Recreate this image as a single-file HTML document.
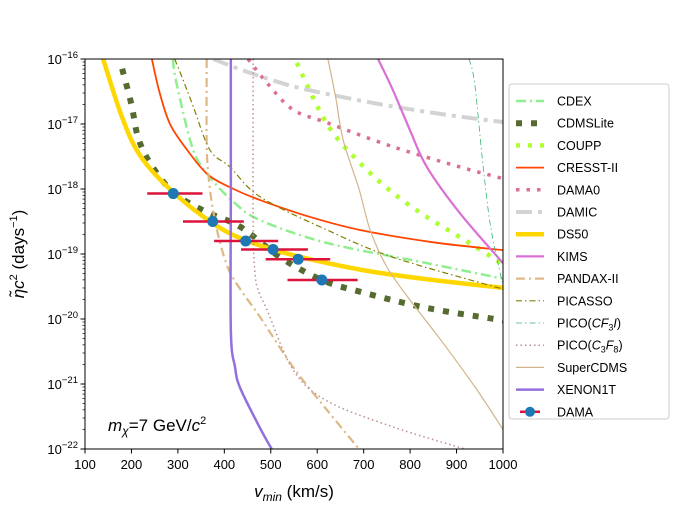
<!DOCTYPE html>
<html><head><meta charset="utf-8"><style>
html,body{margin:0;padding:0;background:#fff;}
svg{display:block;font-family:"Liberation Sans","DejaVu Sans",sans-serif;}
</style></head><body>
<svg id="chart" width="674" height="505" viewBox="0 0 674 505">
<defs><clipPath id="clip"><rect x="85" y="59" width="418" height="390"/></clipPath></defs>
<g id="curves" clip-path="url(#clip)"></g>
<g id="dama" clip-path="url(#clip)"></g>
<rect x="85" y="59" width="418" height="390" fill="none" stroke="#000" stroke-width="1"/>
<g id="axes" font-size="13"></g>
<text x="108" y="431" font-size="17"><tspan font-style="italic">m</tspan><tspan font-style="italic" font-size="12" dy="4">χ</tspan><tspan dy="-4">=7 GeV/</tspan><tspan font-style="italic">c</tspan><tspan font-size="11" dy="-7">2</tspan></text>
<text x="294" y="497" font-size="17" text-anchor="middle"><tspan font-style="italic">v</tspan><tspan font-style="italic" font-size="12" dy="4">min</tspan><tspan dy="-4"> (km/s)</tspan></text>
<text transform="translate(24,254) rotate(-90)" font-size="17" text-anchor="middle"><tspan font-style="italic">η̃c</tspan><tspan font-size="11" dy="-7">2</tspan><tspan dy="7"> (days</tspan><tspan font-size="11" dy="-7">−1</tspan><tspan dy="7">)</tspan></text>
<g id="legend">
<rect x="509" y="84" width="160" height="335" rx="3" fill="#fff" stroke="#ccc" stroke-width="1"/>
</g>
</svg>
<script>
const xTicks=[100,200,300,400,500,600,700,800,900,1000];
const yTicks=[-16,-17,-18,-19,-20,-21,-22];
const names=["CDEX","CDMSLite","COUPP","CRESST-II","DAMA0","DAMIC","DS50","KIMS","PANDAX-II","PICASSO","PICO(CF3I)","PICO(C3F8)","SuperCDMS","XENON1T"];
const cdexX=[289,297,333,369,420,477,621,836,1000];
const cdexY=[-16,-16.37,-17.4,-17.82,-18.2,-18.48,-18.83,-19.14,-19.38];
const cdmsX=[180,200,214,240,290,360,434,520,610,692,836,1000];
const cdmsY=[-16.15,-16.7,-17.2,-17.6,-18.05,-18.35,-18.58,-19.05,-19.4,-19.58,-19.83,-20.02];
const couppX=[556,621,692,763,836,907,987,1000];
const couppY=[-16.06,-17.0,-17.6,-18.06,-18.43,-18.74,-19.1,-19.2];
const cresstX=[244,260,283,320,365,420,477,580,692,850,1000];
const cresstY=[-16,-16.5,-17,-17.4,-17.78,-18.0,-18.17,-18.42,-18.63,-18.82,-18.94];
const dama0X=[451,492,548,621,763,907,1000];
const dama0Y=[-16,-16.37,-16.78,-16.98,-17.35,-17.66,-17.84];
const damicX=[376,450,548,650,763,880,1000];
const damicY=[-16,-16.2,-16.42,-16.58,-16.73,-16.86,-16.97];
const ds50X=[139,180,220,290,380,450,550,700,850,1000];
const ds50Y=[-16,-16.9,-17.5,-18.05,-18.55,-18.8,-19.02,-19.25,-19.4,-19.52];
const kimsX=[731,763,800,836,907,1000];
const kimsY=[-16,-16.48,-17.1,-17.66,-18.37,-19.14];
const pandaxX=[362,362,366,375,390,410,440,477,548,621,690];
const pandaxY=[-16,-17.3,-17.8,-18.3,-18.8,-19.25,-19.6,-19.97,-20.74,-21.4,-22];
const picassoX=[293,310,333,369,412,477,621,763,1000];
const picassoY=[-16,-16.3,-16.73,-17.4,-17.66,-18.12,-18.63,-19.05,-19.54];
const picoCfX=[927,939,955,972,994,1000];
const picoCfY=[-16,-16.37,-17.5,-18.52,-19.3,-19.45];
const picoC3X=[462,462,466,475,492,548,621,763,918];
const picoC3Y=[-16,-18.5,-19.3,-19.6,-19.86,-20.78,-21.26,-21.66,-22];
const superX=[623,640,656,690,714,750,800,871,944,1000];
const superY=[-16,-16.6,-17.25,-18.0,-18.63,-19.2,-19.71,-20.37,-21.09,-21.7];
const xenonX=[414,414,414,423,434,477,502];
const xenonY=[-16,-18,-20.17,-20.74,-21.06,-21.68,-22];
const damaX=[290,375,446,505,559,610];
const damaY=[-18.07,-18.5,-18.8,-18.93,-19.08,-19.4];
const damaXlo=[234,311,378,436,489,536];
const damaXhi=[353,442,516,580,628,687];

const NS="http://www.w3.org/2000/svg";
function sx(v){return 85+(v-100)*418/900;}
function sy(l){return 59+(-16-l)*65;}
function mk(t,a,p){const e=document.createElementNS(NS,t);for(const k in a)e.setAttribute(k,a[k]);p.appendChild(e);return e;}
function pathD(X,Y){const P=X.map((x,i)=>[sx(x),sy(Y[i])]);let d="M"+P[0][0]+","+P[0][1];
for(let i=0;i<P.length-1;i++){const p0=P[i-1]||P[i],p1=P[i],p2=P[i+1],p3=P[i+2]||p2;
const c1=[p1[0]+(p2[0]-p0[0])/6,p1[1]+(p2[1]-p0[1])/6],c2=[p2[0]-(p3[0]-p1[0])/6,p2[1]-(p3[1]-p1[1])/6];
d+=" C"+c1+" "+c2+" "+p2;}return d;}
const styles={
"CDEX":{c:"#90ee90",w:2.5,da:"10,4,2,4"},
"CDMSLite":{c:"#556b2f",w:6,da:"6,9"},
"COUPP":{c:"#adff2f",w:4.5,da:"4,8"},
"CRESST-II":{c:"#ff4500",w:1.8,da:""},
"DAMA0":{c:"#db7093",w:3.5,da:"3.5,7"},
"DAMIC":{c:"#d3d3d3",w:4,da:"16,6,4,6"},
"DS50":{c:"#ffd700",w:4.5,da:""},
"KIMS":{c:"#da70d6",w:2.2,da:""},
"PANDAX-II":{c:"#deb887",w:2.2,da:"9,4,2,4"},
"PICASSO":{c:"#808000",w:1.2,da:"6,3,1.5,3"},
"PICO(CF3I)":{c:"#3cb371",w:0.8,da:"6,3,1.5,3"},
"PICO(C3F8)":{c:"#bc8f8f",w:1.5,da:"1.5,3"},
"SuperCDMS":{c:"#d2b48c",w:1.2,da:""},
"XENON1T":{c:"#9370db",w:2.5,da:""}};
const data={"CDEX":[cdexX,cdexY],"CDMSLite":[cdmsX,cdmsY],"COUPP":[couppX,couppY],"CRESST-II":[cresstX,cresstY],"DAMA0":[dama0X,dama0Y],"DAMIC":[damicX,damicY],"DS50":[ds50X,ds50Y],"KIMS":[kimsX,kimsY],"PANDAX-II":[pandaxX,pandaxY],"PICASSO":[picassoX,picassoY],"PICO(CF3I)":[picoCfX,picoCfY],"PICO(C3F8)":[picoC3X,picoC3Y],"SuperCDMS":[superX,superY],"XENON1T":[xenonX,xenonY]};
const cg=document.getElementById("curves");
names.forEach(n=>{const s=styles[n];const p=mk("path",{d:pathD(data[n][0],data[n][1]),fill:"none",stroke:s.c,"stroke-width":s.w,"stroke-dasharray":s.da},cg);

});
const dg=document.getElementById("dama");
damaX.forEach((x,i)=>{
const b=mk("line",{x1:sx(damaXlo[i]),x2:sx(damaXhi[i]),y1:sy(damaY[i]),y2:sy(damaY[i]),stroke:"#dc143c","stroke-width":2.5},dg);


const v=mk("line",{x1:sx(x),x2:sx(x),y1:sy(damaY[i])-4,y2:sy(damaY[i])+4,stroke:"#dc143c","stroke-width":2.5},dg);


const c=mk("circle",{cx:sx(x),cy:sy(damaY[i]),r:5.5,fill:"#1f77b4"},dg);

});
const ag=document.getElementById("axes");
xTicks.forEach(t=>{const X=sx(t);mk("line",{x1:X,x2:X,y1:449,y2:453.5,stroke:"#000"},ag);
const tx=mk("text",{x:X,y:469,"text-anchor":"middle"},ag);tx.textContent=t;

});
yTicks.forEach(t=>{const Y=sy(t);mk("line",{x1:85,x2:80.5,y1:Y,y2:Y,stroke:"#000"},ag);
if(t>-22)for(let m=2;m<10;m++){const ym=sy(t-1+Math.log10(m));mk("line",{x1:85,x2:82.5,y1:ym,y2:ym,stroke:"#000","stroke-width":0.7},ag);}
const tx=mk("text",{x:78,y:Y+5,"text-anchor":"end"},ag);


const a=document.createElementNS(NS,"tspan");a.textContent="10";tx.appendChild(a);
const b=document.createElementNS(NS,"tspan");b.setAttribute("dy","-6");b.setAttribute("font-size","9.5");b.textContent="−"+(-t);tx.appendChild(b);});
const lg=document.getElementById("legend");
const legNames=names.concat(["DAMA"]);
legNames.forEach((n,i)=>{const y=101+i*22.2;
if(n==="DAMA"){mk("line",{x1:520,x2:540,y1:y,y2:y,stroke:"#dc143c","stroke-width":2.5},lg);mk("line",{x1:530,x2:530,y1:y-4,y2:y+4,stroke:"#dc143c","stroke-width":2.5},lg);mk("circle",{cx:530,cy:y,r:5,fill:"#1f77b4"},lg);}
else{const s=styles[n];mk("line",{x1:516,x2:544,y1:y,y2:y,stroke:s.c,"stroke-width":s.w,"stroke-dasharray":s.da},lg);}
const t=mk("text",{x:557,y:y+4.5,"font-size":"12.5"},lg);


if(n==="PICO(CF3I)"){t.innerHTML='PICO(<tspan font-style="italic">CF</tspan><tspan font-size="9" dy="3">3</tspan><tspan dy="-3" font-style="italic">I</tspan>)';}
else if(n==="PICO(C3F8)"){t.innerHTML='PICO(<tspan font-style="italic">C</tspan><tspan font-size="9" dy="3">3</tspan><tspan dy="-3" font-style="italic">F</tspan><tspan font-size="9" dy="3">8</tspan><tspan dy="-3">)</tspan>';}
else t.textContent=n;});
</script>
</body></html>
